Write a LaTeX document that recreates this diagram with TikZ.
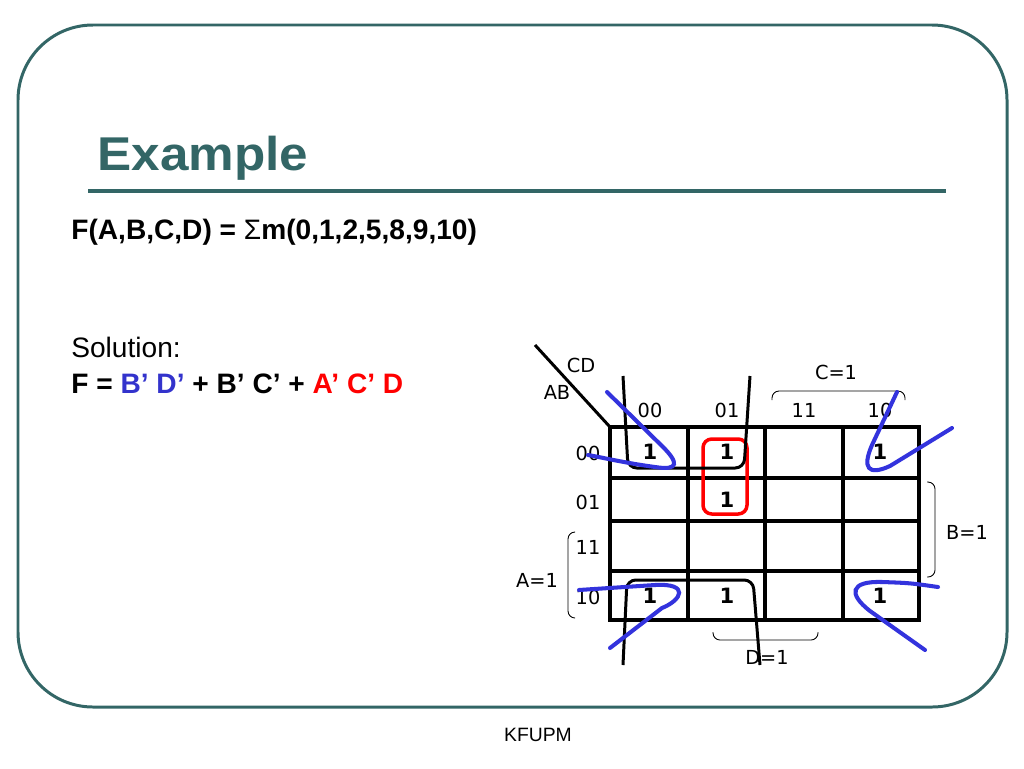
\documentclass[tikz,border=0pt]{standalone}
\usepackage{fontspec}
\setmainfont{Liberation Sans}
\newfontfamily\mapfont{DejaVu Sans}
\usetikzlibrary{positioning}
\definecolor{slate}{RGB}{51,102,102}
\definecolor{loopblue}{RGB}{51,51,221}
\definecolor{termblue}{RGB}{51,51,204}
\tikzset{
  frame/.style={draw=slate,line width=1.7pt,rounded corners=1.5cm},
  txt/.style={anchor=base west,inner sep=0pt,font=\fontsize{16}{19}\selectfont},
  maplbl/.style={inner sep=0pt,font=\mapfont\fontsize{11}{13}\selectfont},
  one/.style={inner sep=0pt,font=\mapfont\bfseries\fontsize{12}{14}\selectfont},
  gridline/.style={line width=2.4pt},
  bracket/.style={line width=0.5pt,rounded corners=4pt},
  blueloop/.style={draw=loopblue,line width=2.3pt,line cap=round},
  blackloop/.style={line width=1.7pt,rounded corners=5pt},
}

\begin{document}
\begin{tikzpicture}[x=0.02cm,y=-0.02cm]
  \useasboundingbox (0,0) rectangle (1024,768);
  \draw[frame] (18,25) rectangle (1007,707);
  % title
  \node[anchor=base west,inner sep=0pt,text=slate,font=\bfseries\fontsize{27}{32}\selectfont] (title) at (97,170) {\scalebox{1.08}[1]{Example}};
  \draw[slate,line width=2.3pt] (88,191) -- (946,191);
  \node[txt,font=\bfseries\fontsize{16}{19}\selectfont] (fdef) at (71,239) {F(A,B,C,D) = {\mdseries Σ}m(0,1,2,5,8,9,10)};
  \node[txt] (sol) at (71,357) {Solution:};
  \node[txt,font=\bfseries\fontsize{16}{19}\selectfont] (fsol) at (71,393) {F = \textcolor{termblue}{B’ D’} + B’ C’ + \textcolor{red}{A’ C’ D}};
  \node[inner sep=0pt,font=\fontsize{11}{13}\selectfont] (foot) at (538,735) {KFUPM};

  % k-map grid
  \coordinate (gtl) at (610,427);
  \coordinate (gbr) at (919,620);
  \draw[gridline] (gtl) rectangle (gbr);
  \foreach \x in {688,765,843} \draw[gridline] (\x,427) -- (\x,620);
  \foreach \y in {478,521,571} \draw[gridline] (610,\y) -- (919,\y);
  \draw[line width=1.7pt] (535,345) -- (gtl);
  \node[maplbl] (cd) at (581,365) {CD};
  \node[maplbl] (ab) at (557,392) {AB};
  \foreach \x/\c in {650/00,727/01,804/11,880/10} \node[maplbl] (col\c) at (\x,410) {\c};
  \foreach \y/\r in {453/00,502/01,547/11,597/10} \node[maplbl] (row\r) at (588,\y) {\r};
  \foreach \x/\y/\n in {650/452/m0,727/452/m1,880/452/m2,727/500/m5,650/596/m8,727/596/m9,880/596/m10}
    \node[one] (\n) at (\x,\y) {1};

  % variable brackets
  \draw[bracket] (772,400) -- (772,391) -- (905,391) -- (905,400);
  \node[maplbl] (cone) at (836,372) {C=1};
  \draw[bracket] (927,482) -- (935,482) -- (935,577) -- (927,577);
  \node[maplbl] (bone) at (967,532) {B=1};
  \draw[bracket] (575,532) -- (568,532) -- (568,618) -- (575,618);
  \node[maplbl] (aone) at (537,580) {A=1};
  \draw[bracket] (713,632) -- (713,640) -- (818,640) -- (818,632);
  \node[maplbl] (done) at (767,657) {D=1};

  % groups
  \draw[red,line width=2pt,rounded corners=5pt] (703,439) rectangle (747,514);
  \draw[blackloop] (623,376) -- (628,468) -- (744,468) -- (750,376);
  \draw[blackloop] (623,665) -- (627,580) -- (753,580) -- (760,665);
  \draw[blueloop] (607,392) -- (663,447) .. controls (678,462) and (680,471) .. (655,467) .. controls (625,463) and (600,457) .. (588,455);
  \draw[blueloop] (897,392) -- (872,445) .. controls (862,468) and (868,476) .. (890,466) -- (952,428);
  \draw[blueloop] (579,590) -- (655,585) .. controls (690,583) and (682,600) .. (662,608) -- (610,648);
  \draw[blueloop] (938,587) .. controls (910,583) .. (882,582) .. controls (850,581) and (848,594) .. (870,611) -- (925,650);
\end{tikzpicture}
\end{document}
